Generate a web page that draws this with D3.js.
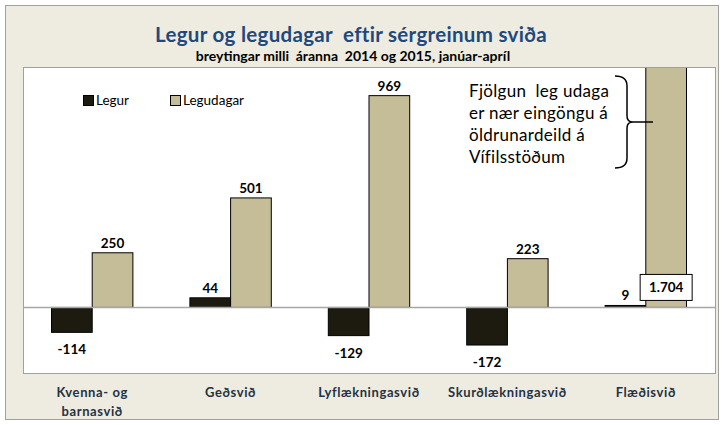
<!DOCTYPE html>
<html>
<head>
<meta charset="utf-8">
<script src="https://cdn.jsdelivr.net/npm/d3@7"></script>
<style>
  body { margin: 0; background: #fff; }
  svg { font-family: Lato, "Open Sans", sans-serif; }
  svg text { white-space: pre; }
</style>
</head>
<body>
<div id="chart"></div>
<script>
const categories = ["Kvenna- og\nbarnasvið", "Geðsvið", "Lyflækningasvið", "Skurðlækningasvið", "Flæðisvið"];
const legur = [-114, 44, -129, -172, 9];
const legudagar = [250, 501, 969, 223, 1704];
const seriesNames = ["Legur", "Legudagar"];
const seriesColors = ["#1d1b10", "#c4bd97"];
const yDomain = [-300, 1100];

const title = "Legur og legudagar  eftir sérgreinum sviða";
const subtitle = "breytingar milli  áranna  2014 og 2015, janúar-apríl";
const noteLines = ["Fjölgun  leg udaga", "er nær eingöngu á", "öldrunardeild á", "Vífilsstöðum"];

const W = 724, H = 425;
const plot = { left: 23, top: 67, right: 715, bottom: 373 };

const fmt = v => d3.format(",")(v).replace(/,/g, ".").replace("\u2212", "-");

const svg = d3.select("#chart").append("svg")
    .attr("width", W)
    .attr("height", H);

// outer chart area
svg.append("rect")
    .attr("x", 5.5).attr("y", 5.5)
    .attr("width", 713).attr("height", 414)
    .attr("fill", "#eeece1")
    .attr("stroke", "#a0a0a0");

svg.append("text")
    .attr("x", 351).attr("y", 42)
    .attr("text-anchor", "middle")
    .attr("fill", "#1f497d")
    .style("font-weight", "bold")
    .style("font-size", "20.5px")
    .style("letter-spacing", "0.3px")
    .text(title);

svg.append("text")
    .attr("x", 353).attr("y", 61)
    .attr("text-anchor", "middle")
    .attr("fill", "#000")
    .style("font-weight", "bold")
    .style("font-size", "14px")
    .text(subtitle);

// plot area
svg.append("rect")
    .attr("x", plot.left + 0.5).attr("y", plot.top + 0.5)
    .attr("width", plot.right - plot.left).attr("height", plot.bottom - plot.top)
    .attr("fill", "#fff")
    .attr("stroke", "#a0a0a0");

svg.append("clipPath").attr("id", "clip")
    .append("rect")
    .attr("x", plot.left).attr("y", plot.top + 1)
    .attr("width", plot.right - plot.left).attr("height", plot.bottom - plot.top);

const x = d3.scaleBand()
    .domain(d3.range(categories.length))
    .range([plot.left, plot.right]);

const barW = x.bandwidth() * 0.294;

const y = d3.scaleLinear()
    .domain(yDomain)
    .range([plot.bottom, plot.top]);

const rows = [];
categories.forEach((c, i) => {
    rows.push({ i, s: 0, v: legur[i] });
    rows.push({ i, s: 1, v: legudagar[i] });
});
const barX = d => x(d.i) + x.bandwidth() / 2 + (d.s === 0 ? -barW : 0);

const g = svg.append("g").attr("clip-path", "url(#clip)");

g.selectAll(".bar")
    .data(rows)
    .enter()
    .append("rect")
    .attr("class", "bar")
    .attr("x", barX)
    .attr("width", barW)
    .attr("y", d => y(Math.max(0, d.v)))
    .attr("height", d => Math.abs(y(d.v) - y(0)))
    .attr("fill", d => seriesColors[d.s])
    .attr("stroke", "#000")
    .attr("stroke-width", 1);

// zero line
svg.append("line")
    .attr("x1", plot.left).attr("x2", plot.right)
    .attr("y1", y(0)).attr("y2", y(0))
    .attr("stroke", "#a6a6a6")
    .attr("stroke-width", 1.5);

// value labels
const clipped = d => y(d.v) < plot.top;
svg.selectAll(".val")
    .data(rows.filter(d => !clipped(d)))
    .enter()
    .append("text")
    .attr("class", "val")
    .attr("x", d => barX(d) + barW / 2)
    .attr("y", d => d.v >= 0 ? y(d.v) - 5 : y(d.v) + 22)
    .attr("text-anchor", "middle")
    .style("font-weight", "bold")
    .style("font-size", "13.5px")
    .text(d => fmt(d.v));

// label of the clipped bar in a box above the zero line
rows.filter(clipped).forEach(d => {
    const cx = barX(d) + barW / 2;
    const lg = svg.append("g");
    lg.append("rect")
        .attr("x", cx - 26).attr("y", y(0) - 33)
        .attr("width", 52).attr("height", 26)
        .attr("fill", "#fff")
        .attr("stroke", "#000");
    lg.append("text")
        .attr("x", cx).attr("y", y(0) - 15)
        .attr("text-anchor", "middle")
        .style("font-weight", "bold")
        .style("font-size", "13.5px")
        .text(fmt(d.v));
});

// category labels
svg.selectAll(".cat")
    .data(categories)
    .enter()
    .append("text")
    .attr("class", "cat")
    .attr("x", (d, i) => x(i) + x.bandwidth() / 2)
    .attr("y", 397)
    .attr("text-anchor", "middle")
    .attr("fill", "#253241")
    .style("font-weight", "bold")
    .style("font-size", "13px")
    .style("letter-spacing", "0.6px")
    .each(function (d) {
        const t = d3.select(this);
        d.split("\n").forEach((line, k) => {
            t.append("tspan")
                .attr("x", t.attr("x"))
                .attr("dy", k === 0 ? 0 : 19)
                .text(line);
        });
    });

// legend
const legendX = [83, 170];
seriesNames.forEach((name, k) => {
    svg.append("rect")
        .attr("x", legendX[k] + 0.5).attr("y", 95.5)
        .attr("width", 10).attr("height", 10)
        .attr("fill", seriesColors[k])
        .attr("stroke", "#000");
    svg.append("text")
        .attr("x", legendX[k] + 13).attr("y", 105)
        .style("font-size", "13.5px")
        .text(name);
});

// note with brace
const note = svg.append("text")
    .attr("x", 469).attr("y", 97)
    .style("font-size", "17px")
    .style("letter-spacing", "0.3px")
    .attr("fill", "#000");
noteLines.forEach((line, k) => {
    note.append("tspan")
        .attr("x", 469)
        .attr("dy", k === 0 ? 0 : 22)
        .text(line);
});

const bx = 615, by0 = 76, by1 = 168, bm = 122;
svg.append("path")
    .attr("d", `M${bx},${by0} Q${bx + 12},${by0} ${bx + 12},${by0 + 10} L${bx + 12},${bm - 6} Q${bx + 12},${bm} ${bx + 18},${bm}`
        + ` Q${bx + 12},${bm} ${bx + 12},${bm + 6} L${bx + 12},${by1 - 10} Q${bx + 12},${by1} ${bx},${by1}`)
    .attr("fill", "none")
    .attr("stroke", "#000")
    .attr("stroke-width", 1.5);
svg.append("line")
    .attr("x1", bx + 18).attr("x2", 653)
    .attr("y1", bm).attr("y2", bm)
    .attr("stroke", "#000")
    .attr("stroke-width", 1.5);
</script>
</body>
</html>
